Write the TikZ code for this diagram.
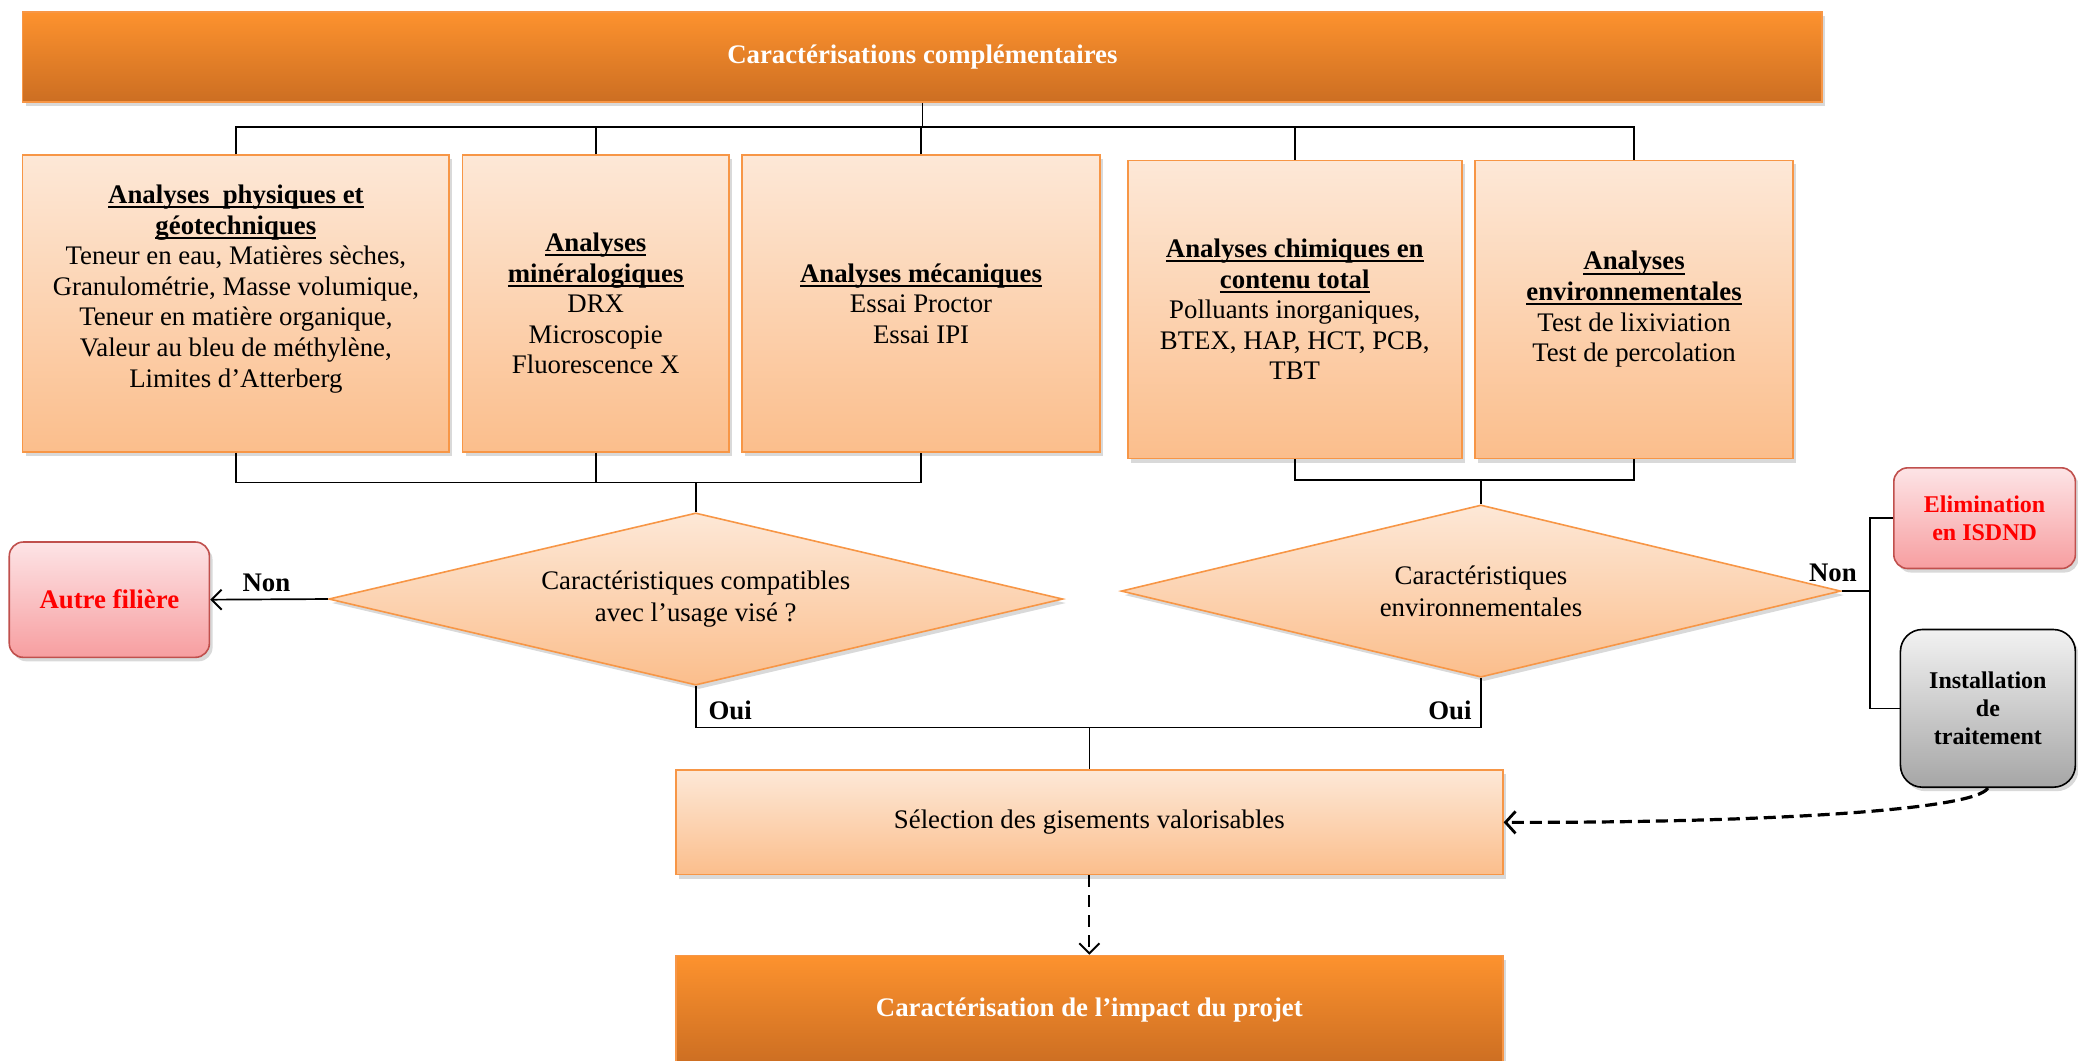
\documentclass[tikz,border=0pt]{standalone}
\usepackage{fontspec}
\setmainfont{Liberation Serif}
\usetikzlibrary{shapes.geometric,shadows,arrows.meta}
\definecolor{dtop}{RGB}{253,146,46}
\definecolor{dbot}{RGB}{204,110,34}
\definecolor{ltop}{RGB}{253,232,215}
\definecolor{lbot}{RGB}{251,190,140}
\definecolor{lbord}{RGB}{247,150,70}
\definecolor{ptop}{RGB}{253,228,230}
\definecolor{pbot}{RGB}{247,158,160}
\definecolor{pbord}{RGB}{192,80,77}
\definecolor{gtop}{RGB}{242,242,242}
\definecolor{gbot}{RGB}{166,166,166}
\definecolor{redtxt}{RGB}{255,0,0}
\newcommand\rpx{0.6626pt}
\newcommand\bodyfs{\fontsize{13.4}{15.3}\selectfont}
\newcommand\myul[1]{\setbox0\hbox{\bfseries #1}\rlap{\rule[-2.4pt]{\wd0}{0.95pt}}\box0}
\begin{document}
\begin{tikzpicture}[x=0.6626pt,y=-0.6626pt,
  shad/.style={drop shadow={shadow xshift=1.6pt,shadow yshift=-2pt,opacity=.3}},
  darkbar/.style={draw=lbord,line width=0.8pt,top color=dtop,bottom color=dbot,inner sep=0pt,shad,align=center,font=\bodyfs\bfseries,text=white},
  lbox/.style={draw=lbord,line width=0.8pt,top color=ltop,bottom color=lbot,inner sep=0pt,shad,align=center,font=\bodyfs},
  txt/.style={inner sep=0pt,align=center,font=\bodyfs},
  ldia/.style={diamond,aspect=4.2,draw=lbord,line width=0.8pt,top color=ltop,bottom color=lbot,inner sep=0pt,shad,align=center,font=\fontsize{13.4}{15.9}\selectfont},
  pinkbox/.style={rounded corners=7pt,draw=pbord,line width=0.8pt,top color=ptop,bottom color=pbot,inner sep=0pt,shad,align=center,font=\fontsize{13.4}{14}\selectfont\bfseries,text=redtxt},
  smallfs/.style={font=\fontsize{12}{14}\selectfont\bfseries},
  graybox/.style={rounded corners=11pt,draw=black,line width=0.8pt,top color=gtop,bottom color=gbot,inner sep=0pt,shad,align=center,font=\fontsize{12}{14.2}\selectfont\bfseries},
  lbl/.style={inner sep=0pt,font=\fontsize{13.4}{15}\selectfont\bfseries},
  conn/.style={line width=0.85pt,draw=black},
  tip/.style={-{Straight Barb[length=5pt,width=10pt,line width=1pt]}}
]
\useasboundingbox (0,0) rectangle (1568,800);

% title
\node[darkbar,minimum width=1358*\rpx,minimum height=68*\rpx] (title) at (696,43) {Caractérisations complémentaires};

% analysis boxes
\node[lbox,minimum width=322*\rpx,minimum height=224*\rpx] (b1) at (178,229) {};
\node[txt] (t1) at (178,218) {\myul{Analyses\ \ physiques et}\\\myul{géotechniques}\\Teneur en eau, Matières sèches,\\Granulométrie, Masse volumique,\\Teneur en matière organique,\\Valeur au bleu de méthylène,\\Limites d’Atterberg};
\node[lbox,minimum width=201*\rpx,minimum height=224*\rpx] (b2) at (449.5,229) {\myul{Analyses}\\\myul{minéralogiques}\\DRX\\Microscopie\\Fluorescence X};
\node[lbox,minimum width=270*\rpx,minimum height=224*\rpx] (b3) at (695,229) {\myul{Analyses mécaniques}\\Essai Proctor\\Essai IPI};
\node[lbox,minimum width=252*\rpx,minimum height=225*\rpx] (b4) at (977,233.5) {\myul{Analyses chimiques en}\\\myul{contenu total}\\Polluants inorganiques,\\BTEX, HAP, HCT, PCB,\\TBT};
\node[lbox,minimum width=240*\rpx,minimum height=225*\rpx] (b5) at (1233,233.5) {\myul{Analyses}\\\myul{environnementales}\\Test de lixiviation\\Test de percolation};

% diamonds
\node[ldia,minimum width=554*\rpx,minimum height=130*\rpx] (d1) at (525,452) {Caractéristiques compatibles\\avec l’usage visé ?};
\node[ldia,minimum width=543*\rpx,minimum height=130*\rpx] (d2) at (1117.5,446) {Caractéristiques\\environnementales};

% side boxes
\node[pinkbox,minimum width=151*\rpx,minimum height=87*\rpx] (autre) at (82.5,452.5) {Autre filière};
\node[pinkbox,smallfs,minimum width=137*\rpx,minimum height=76*\rpx] (elim) at (1497.5,391) {Elimination\\en ISDND};
\node[graybox,minimum width=132*\rpx,minimum height=119*\rpx] (inst) at (1500,534.5) {Installation\\de\\traitement};

% bottom boxes
\node[lbox,minimum width=624*\rpx,minimum height=79*\rpx] (sel) at (822,620.5) {Sélection des gisements valorisables};
\node[darkbar,minimum width=624*\rpx,minimum height=82*\rpx] (impact) at (822,762) {Caractérisation de l’impact du projet};

% coordinates
\coordinate (bus) at (696,96);
\coordinate (busL) at (525,364);
\coordinate (busR) at (1117.5,362);
\coordinate (oui) at (822,549);
\coordinate (nr) at (1411,446);

% connectors top
\draw[conn] (title.south) -- (bus);
\draw[conn] (b1.north) -- (b1.north |- bus) -- (b5.north |- bus) -- (b5.north);
\draw[conn] (b2.north) -- (b2.north |- bus);
\draw[conn] (b3.north) -- (b3.north |- bus);
\draw[conn] (b4.north) -- (b4.north |- bus);

% connectors to diamonds
\draw[conn] (b1.south) -- (b1.south |- busL) -- (b3.south |- busL) -- (b3.south);
\draw[conn] (b2.south) -- (b2.south |- busL);
\draw[conn] (busL) -- (d1.north);
\draw[conn] (b4.south) -- (b4.south |- busR) -- (b5.south |- busR) -- (b5.south);
\draw[conn] (busR) -- (d2.north);

% Non left
\draw[conn,tip] (d1.west) -- (autre.east);
\node[lbl] (non1) at (201,440) {Non};

% Oui
\draw[conn] (d1.south) -- (d1.south |- oui) -- (d2.south |- oui) -- (d2.south);
\draw[conn] (oui) -- (sel.north);
\node[lbl] (oui1) at (551,536) {Oui};
\node[lbl] (oui2) at (1094,536) {Oui};

% Non right
\draw[conn] (d2.east) -- (nr);
\draw[conn] (elim.west) -| (nr) |- (inst.west);
\node[lbl] (non2) at (1383,432) {Non};

% dashed arrows
\draw[line width=1.6pt,dash pattern=on 6pt off 3pt,-{Straight Barb[length=5pt,width=11pt,line width=1.4pt]}] (inst.south) .. controls (1490,612) and (1320,621) .. (sel.east);
\draw[line width=1pt,dash pattern=on 6pt off 4pt,tip] (sel.south) -- (impact.north);
\end{tikzpicture}
\end{document}
